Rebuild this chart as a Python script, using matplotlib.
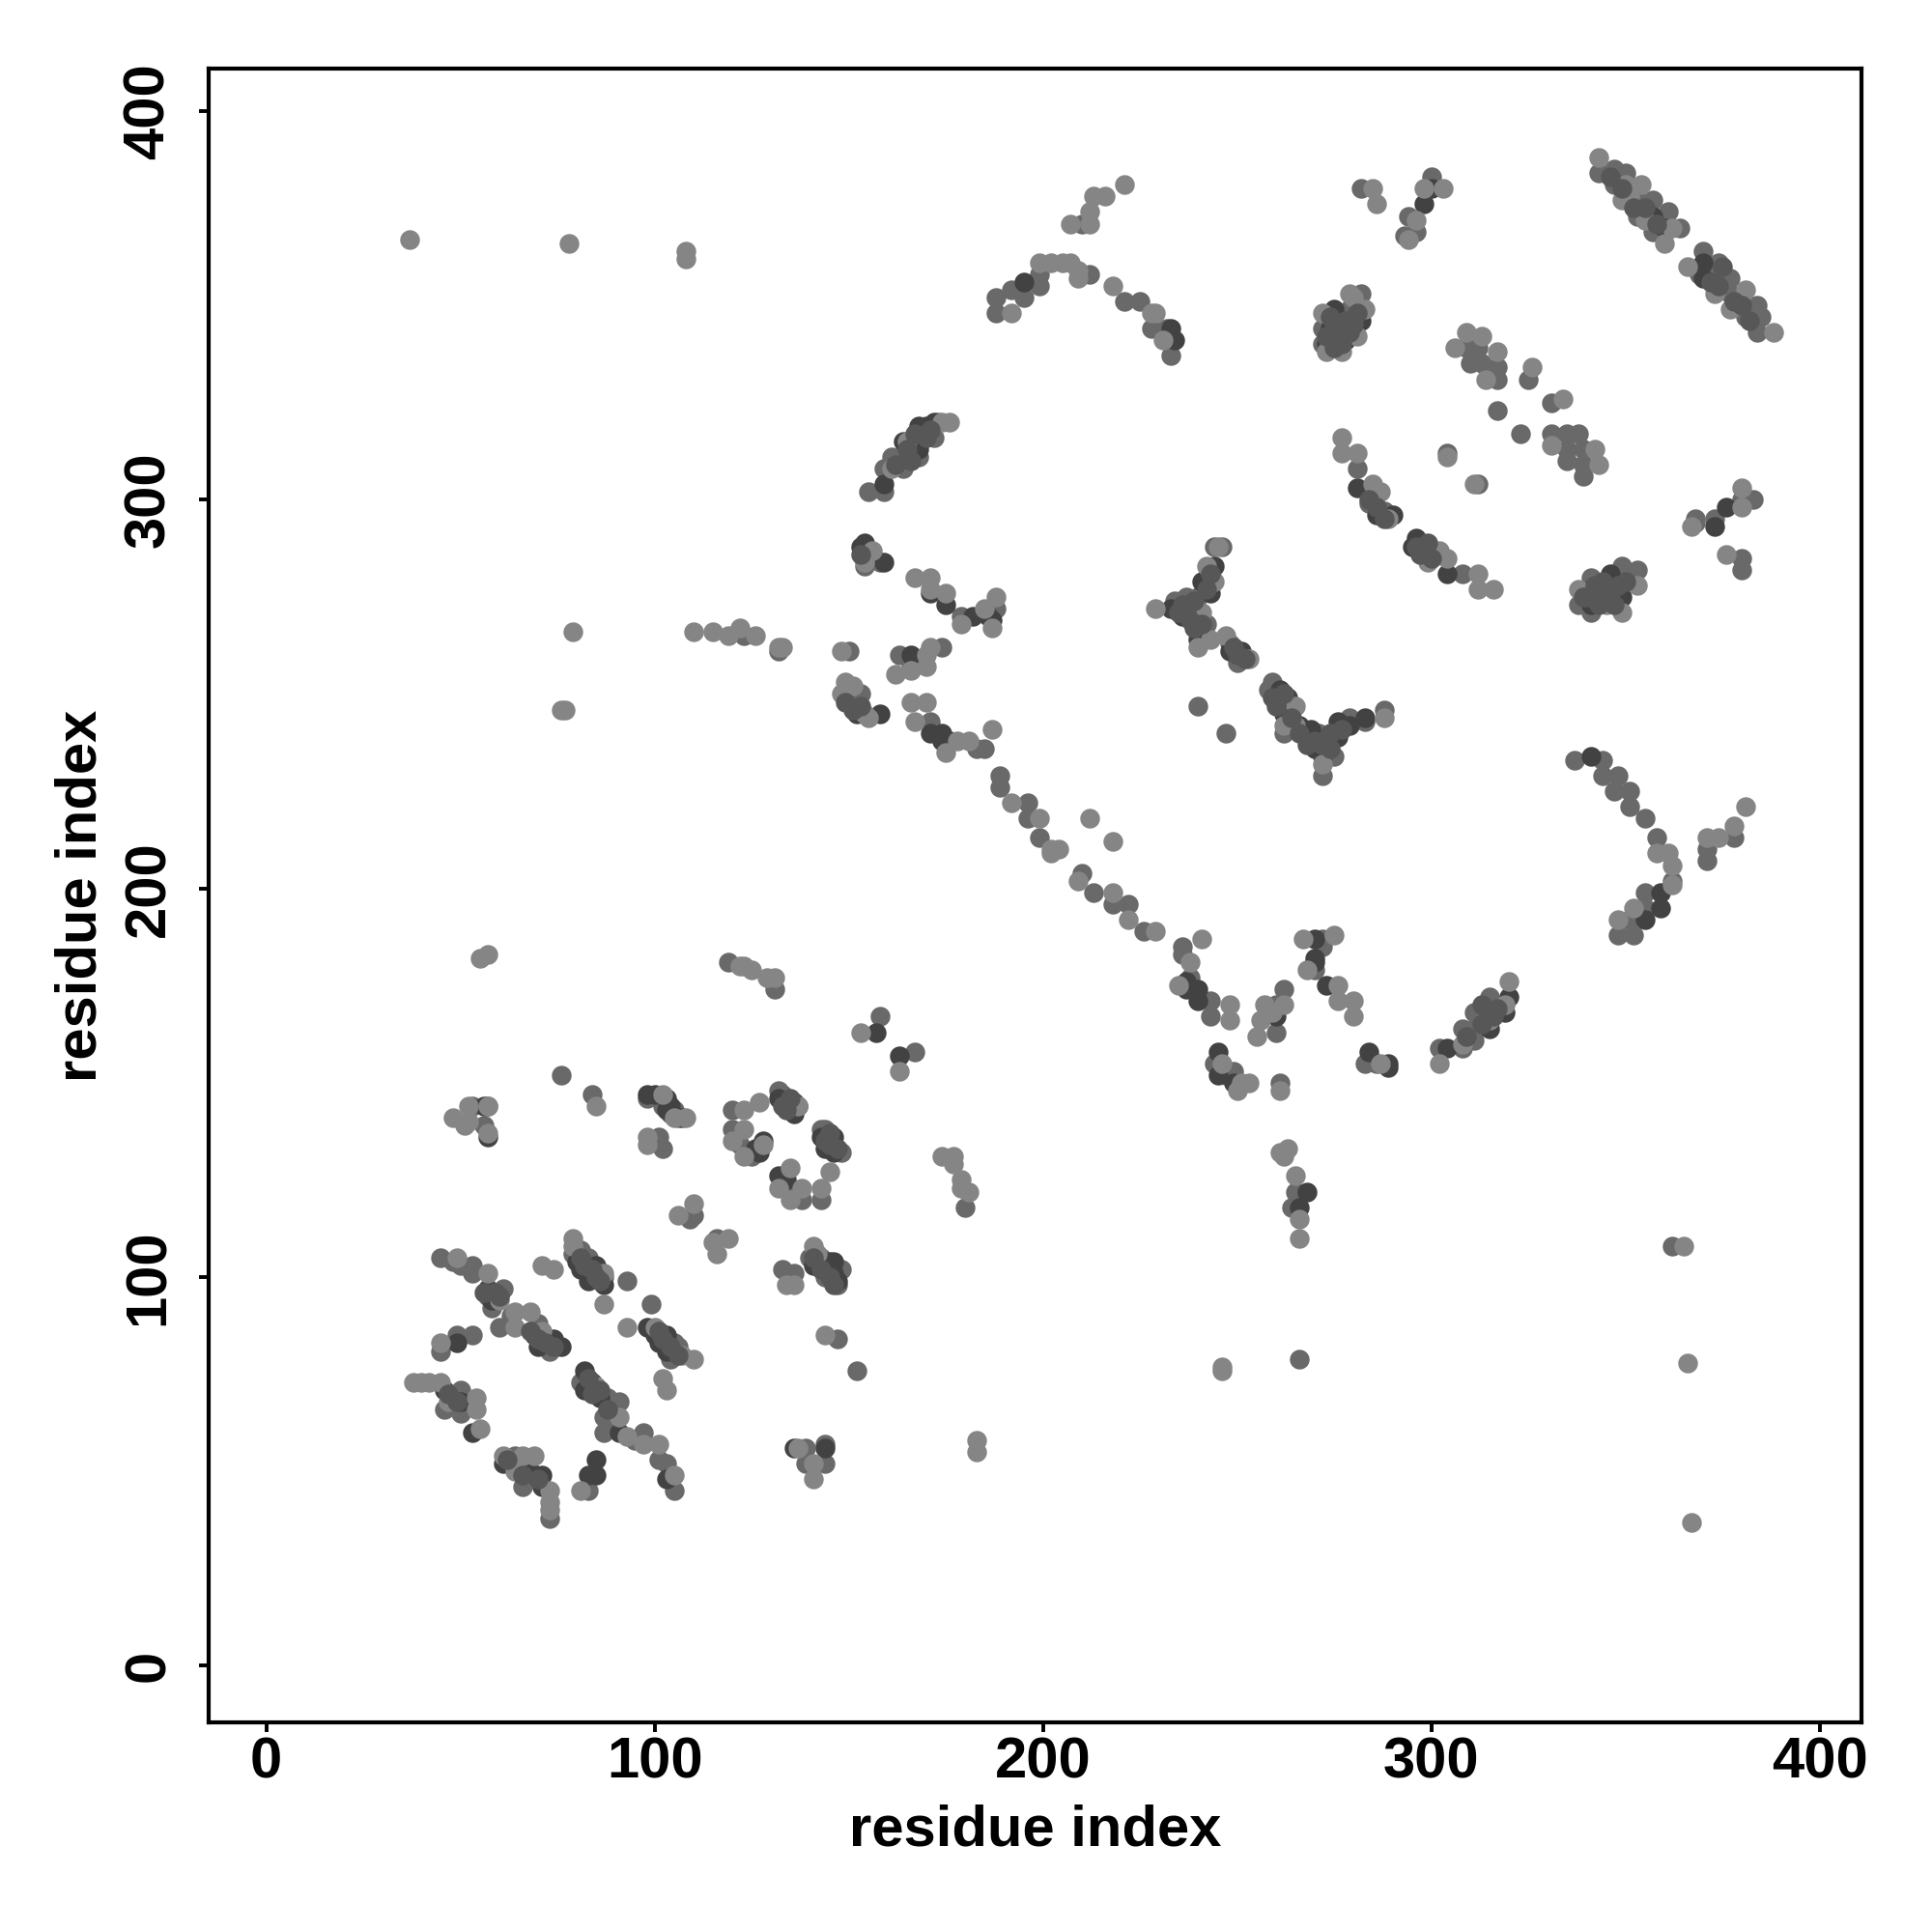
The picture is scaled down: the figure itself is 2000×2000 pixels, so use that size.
import numpy as np
import matplotlib
matplotlib.use('Agg')
import matplotlib.pyplot as plt

plt.rcParams['font.family'] = ['Liberation Sans', 'DejaVu Sans']
plt.rcParams['font.weight'] = 'bold'

# contactos (residuo i, residuo j), separados por nivel de gris
mid_contacts = [
    (158,167),(167,158),(76,152),(84,147),(53,144),(57,144),(56,139),(98,146),(105,143),(104,142),(106,141),(102,144),
    (101,136),(102,133),(120,143),(120,138),(122,134),(125,131),(132,148),(134,145),(137,144),(133,147),(135,144),(137,144),
    (144,138),(148,132),(143,138),(135,123),(138,120),(143,120),(110,116),(109,115),(116,110),(140,105),(143,105),(148,102),
    (147,98),(144,100),(133,102),(136,101),(147,84),(152,76),(79,106),(81,107),(83,105),(87,100),(93,99),(99,93),
    (105,83),(104,79),(106,82),(45,105),(50,103),(53,103),(48,104),(53,101),(61,97),(58,92),(60,87),(63,90),(57,95),
    (70,88),(72,84),(73,81),(53,85),(49,85),(45,81),(50,71),(46,66),(50,65),(81,73),(88,69),(91,68),(87,64),(87,60),(97,60),
    (89,61),(95,58),(101,53),(103,52),(105,45),(64,54),(65,50),(66,46),(73,38),(83,45),(139,56),(144,57),(139,52),(144,52),
    (180,118),(131,174),(119,181),(123,265),(132,261),(266,79),(362,108),
    (265,122),(264,118),(261,150),(189,229),(189,226),(196,222),(196,218),(199,213),(210,204),(213,199),(218,196),(222,196),(226,189),
    (236,185),(236,183),(238,177),(243,171),(243,167),(262,174),(260,170),(260,163),(272,187),(272,185),(270,179),
    (244,155),(249,153),(247,152),(283,155),(286,155),(302,159),(308,159),(308,164),(311,161),(311,168),(311,164),(315,172),
    (155,302),(159,302),(159,308),(161,311),(164,308),(164,311),(168,311),(172,316),(173,320),(154,283),(154,287),(158,284),
    (188,272),(179,270),(150,261),(163,260),(174,262),(166,257),(153,250),(150,248),(171,243),(183,236),(185,236),
    (244,288),(246,288),(234,274),(237,275),(240,275),(242,268),(248,263),(250,258),(240,247),(247,240),(259,253),(258,251),
    (262,240),(268,239),(271,240),(275,234),(272,229),(279,244),(283,243),(288,246),
    (188,352),(188,348),(192,354),(195,352),(199,355),(199,358),(212,358),(221,351),(225,351),(232,344),(233,337),(228,344),
    (210,371),(282,380),(300,383),(294,373),(293,368),(296,369),(343,384),(347,385),(350,384),(347,381),(353,377),(357,377),
    (353,373),(357,369),(361,374),(364,370),(370,364),(369,358),(374,361),(372,358),(377,357),(377,353),(381,347),(384,350),
    (385,347),(384,343),(282,353),(272,344),(272,340),(277,348),(279,349),(275,342),(309,339),(312,339),(310,335),(313,335),
    (317,334),(317,331),(325,331),(317,323),(323,317),(331,325),(331,317),(335,317),(338,317),(335,313),(339,313),(339,309),
    (335,310),(339,306),(304,312),(312,304),(281,308),(284,299),(288,297),(308,281),(338,273),(341,280),(349,283),(353,282),
    (341,271),(345,277),(383,300),(380,300),(373,295),(368,295),(368,294),(380,285),(380,282),
    (337,233),(344,233),(344,229),(348,229),(347,225),(351,225),(351,221),(355,218),(358,213),(362,202),(355,199),(355,195),
    (351,192),(348,188),(352,188),(371,210),(371,207),(378,213),
]

dark_contacts = [
    (157,163),(163,157),(56,144),(57,136),(98,147),(100,147),(103,146),(104,144),(107,141),(103,143),(126,133),(127,132),(128,135),
    (132,146),(136,145),(136,142),(143,136),(146,136),(144,133),(146,132),(132,126),(134,125),(145,104),(146,101),(141,103),
    (146,104),(147,99),(85,103),(81,102),(80,104),(87,98),(84,101),(83,99),(98,87),(100,85),(103,85),(101,83),(103,81),
    (57,97),(58,94),(69,85),(74,84),(76,82),(70,82),(49,83),(46,71),(50,68),(53,60),(82,76),(84,73),(82,71),(86,69),(91,60),
    (103,48),(61,52),(71,49),(68,50),(71,46),(85,53),(85,49),(83,49),(136,56),(144,56),
    (268,122),(266,118),(237,176),(240,174),(240,171),(237,174),(260,167),(270,187),(270,182),(270,181),(273,175),
    (245,158),(245,152),(249,150),(284,158),(289,155),(289,154),(304,159),(315,164),(315,168),(319,168),(320,172),
    (159,304),(164,315),(168,315),(168,319),(172,320),(170,319),(168,313),(154,289),(159,284),(153,288),
    (171,276),(175,273),(182,270),(187,269),(186,270),(166,260),(152,245),(158,245),(171,240),(174,240),(176,238),(174,238),
    (244,283),(243,276),(241,279),(233,272),(238,272),(236,270),(240,266),(240,264),(251,261),(248,261),
    (261,251),(263,249),(262,245),(266,242),(269,241),(270,236),(272,234),(276,239),(276,243),(279,242),(283,244),
    (195,356),(233,344),(234,341),(298,376),(300,380),(357,373),(360,370),(370,361),(370,357),
    (282,346),(275,349),(273,340),(278,341),(277,345),(274,344),(281,303),(286,296),(290,296),(296,290),(295,288),(298,287),(304,281),
    (341,277),(341,273),(346,281),(349,275),(376,298),(373,293),(341,234),(359,199),(359,195),(355,192),
]

# relleno de los grupos densos, gris intermedio
dense_contacts = [
    (275,345),(276,343),(274,347),(278,346),(279,343),(277,340),(275,339),(280,345),(281,348),(273,342),
    (340,275),(342,278),(344,279),(346,276),(348,278),(343,273),(347,273),(350,279),(344,275),(339,275),
    (236,273),(238,269),(239,267),(241,268),(235,271),(237,271),(239,274),(242,277),(243,281),
    (264,244),(266,240),(268,237),(270,238),(272,237),(274,236),(274,240),(277,241),(260,247),(259,249),(262,250),
    (249,262),(250,260),(252,259),
    (352,375),(355,375),(358,371),(349,380),(346,383),(372,356),(374,355),(378,351),(380,350),(382,346),(375,360),
    (165,313),(166,310),(167,317),(170,316),(171,318),(162,309),
    (284,300),(286,298),(288,295),(296,288),(297,286),(300,285),(299,289),
    (316,167),(317,169),(313,165),(309,162),(313,170),
    (82,103),(84,102),(85,100),(86,99),(81,105),(102,84),(104,82),(106,80),(101,86),
    (68,86),(70,84),(72,83),(74,82),(83,74),(84,70),(86,71),(88,66),
    (60,95),(59,96),(56,96),(47,70),(49,68),(66,49),(70,48),(62,53),
    (133,144),(135,146),(134,143),(144,135),(145,134),(147,133),(145,137),(141,105),(143,102),(145,100),(146,98),
    (149,248),(151,246),(153,247),(153,286),
]

light_contacts = [
    (153,163),(163,153),(85,144),(48,141),(52,144),(57,144),(51,139),(52,140),(57,137),(102,147),(108,141),(105,141),(98,136),(98,134),
    (123,143),(127,145),(123,138),(120,135),(123,131),(128,134),(137,144),(135,128),(132,123),(138,123),(135,120),(145,127),(143,123),
    (106,116),(110,119),(119,110),(116,106),(115,109),(141,108),(142,106),(134,98),(136,98),(144,85),
    (79,110),(79,108),(87,101),(71,103),(74,102),(87,93),(93,87),(100,87),(107,80),(110,79),(102,74),(103,71),
    (49,105),(57,101),(60,94),(64,91),(68,91),(64,87),(71,86),(45,83),(38,73),(40,73),(42,73),(45,73),(54,69),(54,66),(55,61),(47,68),
    (85,72),(91,64),(93,59),(97,57),(101,57),(105,49),(61,54),(66,54),(69,54),(64,50),(73,45),(73,42),(73,40),(81,45),(137,56),(141,52),(141,48),
    (174,131),(177,131),(177,129),(179,125),(179,123),(181,122),(367,37),(366,78),(365,108),(246,77),(246,76),(183,55),(183,58),
    (37,367),(78,366),(108,364),(108,362),(110,266),(115,266),(119,265),(122,267),(126,265),(132,262),(133,262),(79,266),(76,246),(77,246),
    (55,182),(57,183),(122,180),(123,180),(125,179),(129,177),(131,177),
    (261,132),(263,133),(262,131),(265,126),(266,115),(266,110),(192,222),(199,218),(202,210),(204,210),(202,209),(212,218),(218,212),(209,202),(218,199),(222,192),(229,189),
    (241,187),(238,181),(235,175),(248,170),(248,166),(262,170),(257,170),(256,166),(255,162),(259,168),(267,187),(275,188),(268,179),
    (276,175),(276,171),(280,171),(280,167),(246,155),(253,150),(250,148),(251,150),(261,148),(287,155),(302,155),(308,160),(315,166),(319,170),(320,176),
    (161,308),(165,315),(176,320),(174,320),(156,287),(154,284),(167,280),(171,280),(171,277),(175,276),(179,268),(185,272),(188,275),(187,267),
    (148,261),(171,262),(170,260),(170,257),(162,255),(166,256),(149,253),(151,252),(148,250),(154,245),(155,244),(149,251),
    (166,248),(170,248),(167,243),(175,235),(178,238),(181,238),(187,241),
    (229,272),(245,288),(242,283),(244,279),(241,271),(240,262),(243,264),(247,265),(253,259),(265,247),(262,242),(272,232),(288,244),(265,242),
    (192,348),(199,361),(202,361),(205,361),(207,361),(209,359),(209,357),(218,355),(228,348),(229,348),(231,341),
    (207,371),(212,371),(212,374),(213,378),(216,378),(221,381),(285,380),(286,376),(298,380),(303,380),(296,372),(294,367),
    (343,388),(350,381),(354,381),(349,377),(362,370),(360,366),(355,372),(351,378),(366,360),(373,353),(381,354),(377,349),(388,343),
    (279,353),(283,349),(281,342),(272,348),(273,338),(277,338),(280,352),(309,343),(313,342),(306,339),(317,338),(314,331),(326,334),(334,326),
    (331,314),(342,313),(343,309),(304,311),(311,304),(277,316),(277,312),(281,312),(285,304),(287,302),(289,295),(299,284),(302,287),(304,285),(312,281),(312,277),(316,277),
    (338,277),(353,278),(345,273),(349,271),(380,303),(380,298),(367,293),(376,286),(358,209),(361,209),(362,206),(362,201),(352,195),(348,192),(371,213),(374,213),(378,216),(381,221),
]

contact_groups = [mid_contacts, dark_contacts, light_contacts, dense_contacts]
group_grays = [0.41, 0.26, 0.52, 0.34]
axis_ticks = [0, 100, 200, 300, 400]

fig = plt.figure(figsize=(10, 10), dpi=200)
ax = fig.add_axes([0.1078, 0.1084, 0.8558, 0.8559])

for puntos, gris in zip(contact_groups, group_grays):
    xs, ys = np.array(puntos).T
    ax.scatter(xs, ys, s=54, color=(gris, gris, gris), linewidths=0, clip_on=True)

ax.set_xlim(-14.9, 410.8)
ax.set_ylim(-14.6, 410.8)
ax.set_xticks(axis_ticks)
ax.set_yticks(axis_ticks)
ax.tick_params(axis='both', length=3.6, width=1.4, labelsize=21.5)
ax.tick_params(axis='x', pad=1.6)
ax.tick_params(axis='y', pad=8.5)
for lab in ax.get_yticklabels():
    lab.set_rotation(90)
    lab.set_va('center')
for side in ax.spines.values():
    side.set_linewidth(1.5)

ax.set_xlabel('residue index', fontsize=21.5, fontweight='bold')
ax.set_ylabel('residue index', fontsize=21.5, fontweight='bold')
ax.xaxis.set_label_coords(0.5, -0.0493)
ax.yaxis.set_label_coords(-0.0609, 0.5)

fig.savefig('out.png')
